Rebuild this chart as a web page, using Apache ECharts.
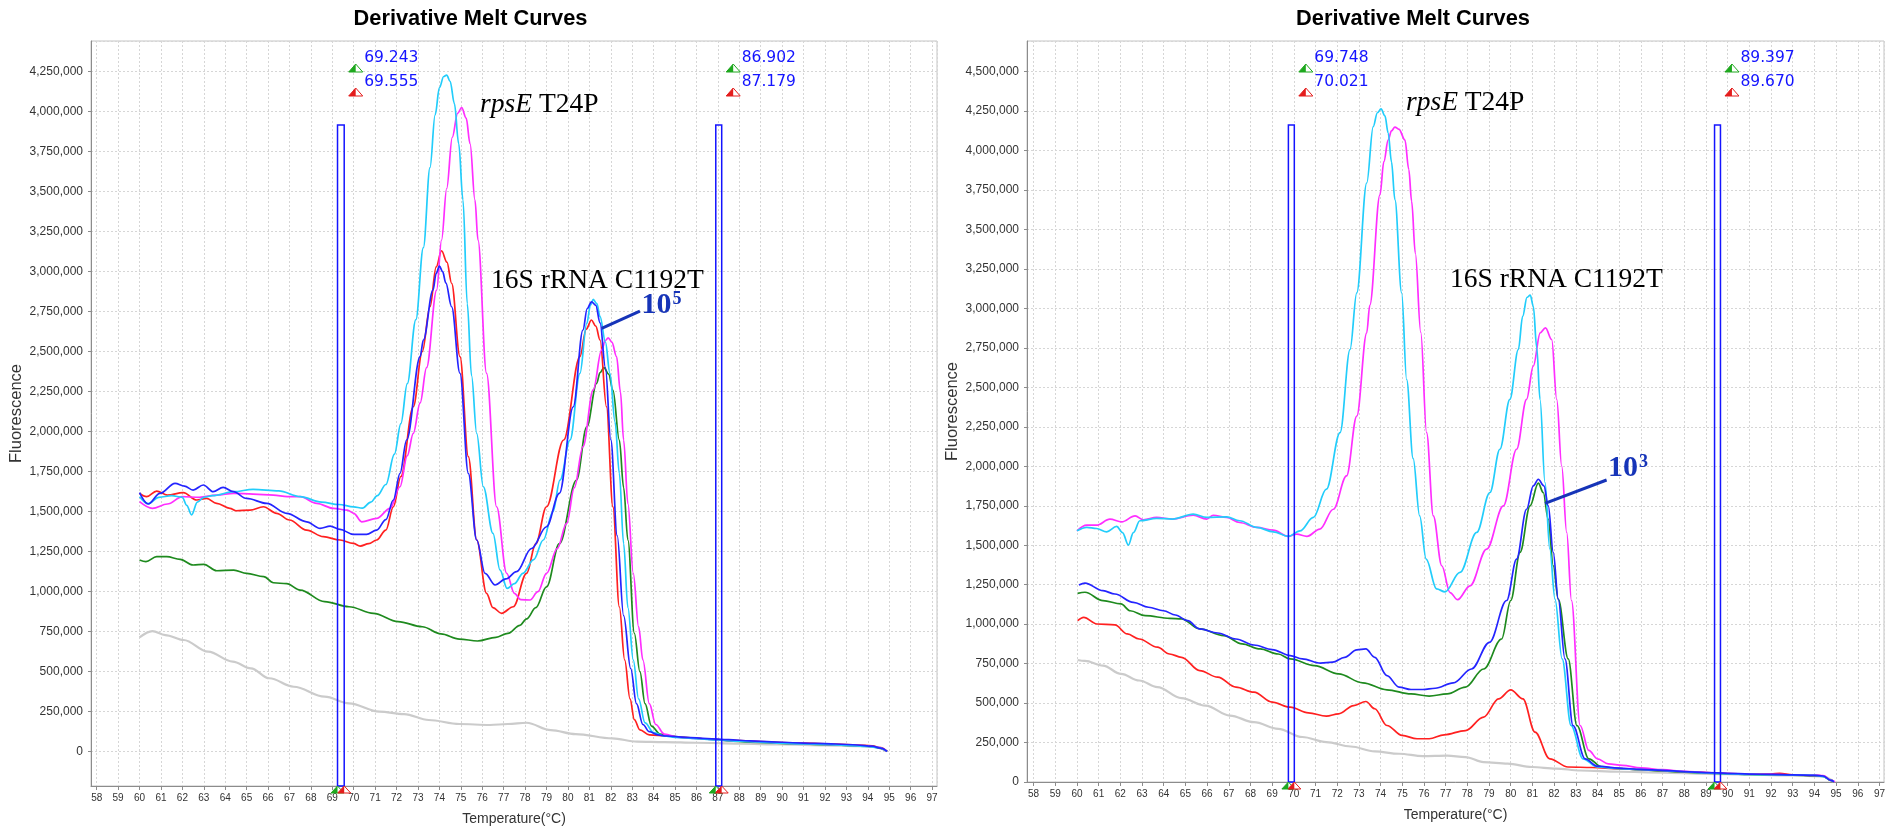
<!DOCTYPE html>
<html><head><meta charset="utf-8">
<script src="https://cdn.jsdelivr.net/npm/echarts@6/dist/echarts.min.js"></script>
<style>html,body{margin:0;padding:0;background:#fff}#c{width:1887px;height:831px}</style>
</head><body><div id="c"></div>
<script>
// ---------------- DATA ----------------
const chartTitle = 'Derivative Melt Curves';
const xAxisName = 'Temperature(°C)';
const yAxisName = 'Fluorescence';

// Left panel (10^5)
const leftCyan = [[60.0,1594000],[60.4,1550000],[60.9,1590000],[61.5,1600000],[62.0,1590000],[62.2,1540000],[62.43,1480000],[62.7,1560000],[63.0,1590000],[63.4,1600000],[64.4,1625000],[65.3,1640000],[66.5,1630000],[67.5,1594000],[68.5,1560000],[69.3,1545000],[70.0,1530000],[70.4,1522000],[70.8,1560000],[71.1,1600000],[71.5,1670000],[71.9,1860000],[72.2,2050000],[72.5,2300000],[72.9,2700000],[73.25,3150000],[73.56,3650000],[73.8,3980000],[74.0,4150000],[74.2,4220000],[74.34,4229000],[74.5,4190000],[74.7,4050000],[74.9,3800000],[75.1,3448000],[75.3,2800000],[75.5,2350000],[75.74,1990000],[76.05,1656000],[76.5,1365000],[76.83,1135000],[77.16,1021000],[77.5,1050000],[77.9,1115000],[78.4,1200000],[78.85,1323000],[79.3,1500000],[79.63,1698000],[80.1,1948000],[80.56,2365000],[80.88,2677000],[81.05,2790000],[81.18,2827000],[81.35,2800000],[81.5,2719000],[81.75,2560000],[81.96,2365000],[82.2,2060000],[82.4,1740000],[82.6,1300000],[82.8,900000],[83.05,573000],[83.3,330000],[83.6,180000],[84.0,120000],[84.5,98000],[85,90000],[86,82000],[87,73000],[88,66000],[89,60000],[90,53000],[91,49000],[92,45000],[93,40000],[94,33000],[94.5,25000],[94.9,2000]];
const leftMagenta = [[60.0,1563000],[60.6,1521000],[61.3,1548000],[62.0,1594000],[62.8,1590000],[63.6,1604000],[64.4,1615000],[65.3,1610000],[66.25,1604000],[66.9,1594000],[67.5,1594000],[68.27,1552000],[69.05,1521000],[69.7,1510000],[70.0,1490000],[70.37,1437000],[71.07,1458000],[71.7,1521000],[72.16,1656000],[72.5,1850000],[72.78,1990000],[73.1,2180000],[73.4,2400000],[73.87,2885000],[74.1,3198000],[74.34,3520000],[74.6,3840000],[74.85,3990000],[75.04,4025000],[75.25,3960000],[75.43,3800000],[75.66,3448000],[75.8,3198000],[76.2,2365000],[76.67,1531000],[77.14,1115000],[77.5,990000],[77.8,950000],[78.23,948000],[78.6,1000000],[79.0,1115000],[79.5,1270000],[79.94,1427000],[80.3,1650000],[80.7,1906000],[81.18,2261000],[81.57,2510000],[81.75,2570000],[81.88,2587000],[82.05,2560000],[82.27,2469000],[82.45,2250000],[82.6,1948000],[82.8,1550000],[83.05,1115000],[83.3,780000],[83.5,573000],[83.8,300000],[84.1,170000],[84.5,110000],[85.2,90000],[86,83000],[87,74000],[88,67000],[89,61000],[90,54000],[91,50000],[92,46000],[93,41000],[94,35000],[94.5,27000],[94.9,2000]];
const leftRed = [[60.0,1615000],[60.33,1594000],[60.8,1629000],[61.3,1604000],[62.04,1619000],[62.67,1573000],[63.13,1583000],[63.6,1552000],[64.22,1521000],[64.5,1506000],[65.16,1510000],[65.78,1531000],[66.4,1490000],[67.0,1448000],[67.8,1385000],[68.58,1344000],[69.36,1323000],[69.98,1302000],[70.3,1285000],[70.7,1300000],[71.07,1323000],[71.5,1385000],[71.85,1531000],[72.2,1720000],[72.78,2156000],[73.2,2500000],[73.56,2781000],[73.85,3030000],[74.1,3131000],[74.35,3060000],[74.57,2927000],[74.96,2469000],[75.35,1844000],[75.74,1323000],[76.2,990000],[76.5,900000],[76.9,865000],[77.45,906000],[78.07,1115000],[78.5,1300000],[79.0,1531000],[79.8,1948000],[80.56,2469000],[80.85,2640000],[81.1,2698000],[81.3,2660000],[81.5,2573000],[81.8,2156000],[82.1,1531000],[82.4,906000],[82.65,573000],[82.9,330000],[83.1,200000],[83.36,136000],[83.8,105000],[84.65,98000],[85.5,88000],[86.5,80000],[87.5,72000],[88.5,66000],[89.5,60000],[90.5,54000],[91.5,52000],[92.5,47000],[93.5,42000],[94.2,36000],[94.6,25000],[94.9,2000]];
const leftBlue = [[60.0,1619000],[60.4,1548000],[60.95,1615000],[61.66,1677000],[62.1,1660000],[62.5,1635000],[62.98,1667000],[63.44,1625000],[63.9,1652000],[64.38,1625000],[65.0,1583000],[65.94,1552000],[66.87,1490000],[67.8,1437000],[68.43,1396000],[68.9,1410000],[69.36,1390000],[69.98,1358000],[70.6,1358000],[71.07,1385000],[71.5,1450000],[71.85,1573000],[72.16,1740000],[72.47,1948000],[73.1,2469000],[73.25,2573000],[73.7,2885000],[73.85,2990000],[74.0,3035000],[74.15,3000000],[74.3,2930000],[74.57,2781000],[74.96,2365000],[75.35,1740000],[75.74,1323000],[76.13,1115000],[76.6,1042000],[77.1,1080000],[77.6,1125000],[78.3,1270000],[79.0,1406000],[79.6,1615000],[80.25,2156000],[80.7,2635000],[80.9,2770000],[81.1,2812000],[81.3,2790000],[81.5,2680000],[81.75,2400000],[82.0,1950000],[82.3,1350000],[82.6,850000],[82.93,520000],[83.2,300000],[83.5,170000],[83.8,125000],[84.2,105000],[84.6,98000],[85.5,90000],[86.5,82000],[87.5,75000],[88.5,68000],[89.5,62000],[90.5,56000],[91.5,52000],[92.5,48000],[93.5,42000],[94.2,35000],[94.6,22000],[94.9,2000]];
const leftGreen = [[60.0,1198000],[60.3,1188000],[60.8,1219000],[61.27,1219000],[61.9,1202000],[62.5,1167000],[63.0,1171000],[63.6,1131000],[64.4,1135000],[65.0,1115000],[65.8,1094000],[66.25,1056000],[66.87,1050000],[67.5,1010000],[68.64,938000],[69.78,906000],[70.92,865000],[72.07,813000],[73.2,781000],[74.07,736000],[74.93,704000],[75.78,692000],[76.64,715000],[77.2,740000],[77.76,790000],[78.07,830000],[78.5,900000],[79.0,1030000],[79.6,1300000],[80.4,1698000],[80.88,2031000],[81.34,2302000],[81.5,2370000],[81.68,2400000],[81.9,2360000],[82.1,2260000],[82.4,1948000],[82.6,1650000],[82.8,1323000],[83.1,740000],[83.36,500000],[83.6,300000],[83.9,160000],[84.3,110000],[84.7,98000],[85.5,88000],[86.5,78000],[87.5,68000],[88.5,60000],[89.5,55000],[90.5,50000],[91.5,46000],[92.5,42000],[93.5,37000],[94.2,32000],[94.6,20000],[94.9,2000]];
const leftGrey = [[60.0,715000],[60.6,754000],[61.2,729000],[62.06,698000],[63.2,625000],[64.35,563000],[65.2,521000],[66.06,459000],[67.2,406000],[68.64,344000],[69.78,302000],[71.2,250000],[72.35,235000],[73.5,198000],[74.93,173000],[76.36,167000],[77.2,173000],[78.07,181000],[79.2,135000],[80.36,110000],[82.08,83000],[83.22,63000],[84.5,60000],[86,56000],[88,50000],[90,45000],[92,40000],[93.5,35000],[94.3,30000],[94.9,2000]];

// Right panel (10^3)
const rightCyan = [[60.0,1591000],[60.45,1613000],[60.9,1606000],[61.37,1585000],[61.83,1619000],[62.1,1580000],[62.37,1501000],[62.6,1580000],[62.9,1655000],[63.67,1670000],[64.4,1666000],[65.36,1697000],[65.98,1676000],[66.9,1680000],[67.5,1655000],[68.29,1613000],[69.05,1585000],[69.74,1556000],[70.28,1591000],[70.9,1676000],[71.5,1855000],[72.13,2214000],[72.59,2740000],[72.9,3099000],[73.36,3795000],[73.66,4152000],[73.85,4240000],[74.02,4264000],[74.2,4220000],[74.35,4111000],[74.5,3930000],[74.66,3689000],[74.97,3099000],[75.2,2550000],[75.5,2050000],[75.8,1686000],[76.1,1412000],[76.58,1223000],[76.97,1205000],[77.66,1328000],[78.43,1581000],[79.04,1834000],[79.5,2108000],[79.96,2424000],[80.35,2740000],[80.55,2950000],[80.75,3070000],[80.9,3085000],[81.04,3014000],[81.2,2750000],[81.35,2424000],[81.58,1897000],[81.8,1476000],[82.04,1159000],[82.37,780000],[82.78,358000],[83.33,147000],[84.0,95000],[85,85000],[86,78000],[87,72000],[88,65000],[89,58000],[90,52000],[91,48000],[92,46000],[93,44000],[94,42000],[94.4,35000],[94.76,10000],[94.9,2000]];
const rightMagenta = [[60.0,1591000],[60.45,1627000],[60.9,1627000],[61.52,1665000],[62.06,1648000],[62.68,1686000],[63.06,1661000],[63.67,1676000],[64.4,1666000],[65.36,1690000],[65.98,1666000],[66.28,1690000],[66.9,1676000],[67.5,1644000],[68.29,1613000],[69.05,1596000],[69.74,1556000],[70.13,1570000],[70.6,1556000],[71.2,1602000],[71.82,1728000],[72.43,1939000],[72.9,2318000],[73.36,2846000],[73.5,3020000],[73.97,3720000],[74.15,3930000],[74.35,4068000],[74.5,4125000],[74.66,4149000],[74.85,4135000],[75.12,4068000],[75.3,3880000],[75.43,3680000],[75.6,3350000],[75.85,2850000],[76.12,2213000],[76.43,1686000],[76.82,1370000],[77.2,1200000],[77.55,1155000],[78.12,1243000],[78.89,1475000],[79.66,1749000],[80.27,2108000],[80.73,2424000],[81.04,2635000],[81.36,2846000],[81.6,2877000],[81.89,2803000],[82.12,2424000],[82.35,2002000],[82.58,1581000],[82.8,1150000],[83.2,358000],[83.6,200000],[84.0,147000],[84.5,115000],[85.15,105000],[86,90000],[87,78000],[88,68000],[89,60000],[90,54000],[91,50000],[92,48000],[93,45000],[94,43000],[94.4,40000],[94.76,12000],[94.95,2000]];
const rightRed = [[60.03,1022000],[60.31,1043000],[60.92,1001000],[61.75,995000],[62.32,938000],[62.87,906000],[63.71,854000],[64.27,811000],[64.82,790000],[65.66,706000],[66.49,664000],[67.33,601000],[68.16,569000],[69.0,506000],[69.83,474000],[70.67,438000],[71.5,417000],[72.06,432000],[72.76,484000],[73.32,510000],[73.73,464000],[74.29,358000],[74.99,295000],[75.68,274000],[76.24,274000],[76.93,299000],[77.91,326000],[78.75,411000],[79.44,527000],[80.0,584000],[80.56,527000],[81.12,316000],[81.8,147000],[82.64,95000],[83.75,92000],[85,85000],[86,78000],[87,72000],[88,65000],[89,60000],[90,54000],[91,50000],[92,50000],[92.4,55000],[93,45000],[94,42000],[94.4,38000],[94.76,10000],[94.9,2000]];
const rightBlue = [[60.09,1248000],[60.37,1260000],[61.2,1212000],[61.75,1191000],[62.6,1138000],[63.3,1107000],[63.99,1085000],[64.54,1058000],[65.1,1022000],[65.66,970000],[66.49,944000],[67.33,906000],[68.16,868000],[69.0,839000],[69.83,801000],[70.39,780000],[71.23,753000],[71.79,759000],[72.34,790000],[72.9,837000],[73.32,843000],[73.73,790000],[74.29,674000],[74.85,601000],[75.4,586000],[75.95,586000],[76.52,594000],[77.35,628000],[78.19,716000],[79.02,885000],[79.81,1150000],[80.27,1412000],[80.73,1728000],[81.04,1876000],[81.27,1918000],[81.53,1876000],[81.73,1749000],[81.96,1455000],[82.19,1159000],[82.5,780000],[82.87,358000],[83.43,147000],[84.0,100000],[85,88000],[86,80000],[87,74000],[88,66000],[89,60000],[90,55000],[91,50000],[92,48000],[93,45000],[94,42000],[94.4,38000],[94.76,10000],[94.9,2000]];
const rightGreen = [[60.03,1195000],[60.37,1202000],[61.2,1149000],[62.03,1128000],[62.45,1085000],[63.15,1054000],[64.27,1037000],[64.82,1033000],[65.66,970000],[66.77,927000],[67.61,875000],[68.44,843000],[69.28,811000],[69.83,780000],[70.95,737000],[72.06,685000],[73.18,628000],[74.29,584000],[75.4,558000],[76.24,544000],[77.07,558000],[77.91,601000],[78.75,716000],[79.58,906000],[80.0,1150000],[80.43,1455000],[80.89,1749000],[81.27,1893000],[81.5,1834000],[81.73,1665000],[81.96,1370000],[82.19,1159000],[82.65,780000],[83.05,358000],[83.6,147000],[84.2,95000],[85,85000],[86,78000],[87,70000],[88,62000],[89,56000],[90,52000],[91,48000],[92,46000],[93,44000],[94,41000],[94.4,36000],[94.76,10000],[94.9,2000]];
const rightGrey = [[60.03,773000],[60.37,767000],[61.2,737000],[62.03,685000],[62.87,643000],[63.71,601000],[64.82,531000],[65.93,484000],[67.05,421000],[68.16,379000],[69.28,337000],[70.39,285000],[71.5,253000],[72.62,225000],[73.73,194000],[74.85,179000],[75.95,164000],[77.07,167000],[77.91,158000],[78.75,126000],[79.86,116000],[80.98,95000],[82.09,85000],[83.2,73000],[85,65000],[87,60000],[89,52000],[91,46000],[93,42000],[94.4,36000],[94.9,2000]];

// Melt-temperature markers [green, red]
const leftMarkers = [[69.243, 69.555], [86.902, 87.179]];
const rightMarkers = [[69.748, 70.021], [89.397, 89.670]];

// Axis ranges
const leftXRange = [57.734, 97.23];
const rightXRange = [57.696, 97.21];
const leftYRange = [-214375, 4441875];
const rightYRange = [0, 4694500];
const xTickStep = 1;
const yTickStep = 250000;

// Annotation texts and anchor points (data coordinates)
const geneLabel = ['rpsE', 'T24P'];
const snpLabel = '16S rRNA C1192T';
const leftExponent = '5';
const rightExponent = '3';
const leftAnno = {rps:[75.9, 4044000], s16:[76.41, 2944000], exp:[83.44, 2792000], leader:[[81.575, 2646000],[83.36, 2754000]]};
const rightAnno = {rps:[75.17, 4301800], s16:[77.2, 3180000], exp:[84.48, 1987000], leader:[[81.58, 1765700],[84.42, 1913300]]};

// ---------------- CHART ----------------
const COLORS = {grey:'#cbcbcb', green:'#1e8a1e', red:'#ff2020', magenta:'#ff2eff', cyan:'#22cdfb', blue:'#2424ff'};
const panels = [
  {grid:{left:91, top:41, width:846, height:745}, xr:leftXRange, yr:leftYRange, showMinY:false,
   curves:[['grey',leftGrey],['green',leftGreen],['red',leftRed],['magenta',leftMagenta],['cyan',leftCyan],['blue',leftBlue]],
   markers:leftMarkers, anno:leftAnno, exp:leftExponent, titleX:470.5},
  {grid:{left:1027, top:41, width:857, height:741}, xr:rightXRange, yr:rightYRange, showMinY:true,
   curves:[['grey',rightGrey],['green',rightGreen],['red',rightRed],['magenta',rightMagenta],['cyan',rightCyan],['blue',rightBlue]],
   markers:rightMarkers, anno:rightAnno, exp:rightExponent, titleX:1413}
];

const SANS = '"Liberation Sans", Arial, sans-serif';
const SERIF = '"Liberation Serif", "Times New Roman", serif';
const fmt = v => String(Math.round(v)).replace(/\B(?=(\d{3})+(?!\d))/g, ',');
const axisGrey = '#8c8c8c';
const gridLine = {show:true, lineStyle:{color:'#d6d6d6', width:1, type:[2,2]}};

const chart = echarts.init(document.getElementById('c'), null, {renderer:'canvas', width:1887, height:831});

const option = {
  animation:false,
  backgroundColor:'#ffffff',
  grid: panels.map(p => Object.assign({show:true, borderColor:'#c4c4c4', borderWidth:1, backgroundColor:'#fff', containLabel:false, outerBoundsMode:'none'}, p.grid)),
  xAxis: panels.map((p,i) => ({
    gridIndex:i, type:'value', min:p.xr[0], max:p.xr[1], minInterval:xTickStep, maxInterval:xTickStep, splitNumber:40,
    axisLine:{show:true, onZero:false, lineStyle:{color:axisGrey, width:1}},
    axisTick:{show:true, length:4, lineStyle:{color:axisGrey}},
    axisLabel:{showMinLabel:false, showMaxLabel:false, fontSize:10, color:'#333', margin:7, fontFamily:SANS},
    splitLine:gridLine,
    name:xAxisName, nameLocation:'middle', nameGap:26, nameTextStyle:{fontSize:14, color:'#333', fontFamily:SANS}
  })),
  yAxis: panels.map((p,i) => ({
    gridIndex:i, type:'value', min:p.yr[0], max:p.yr[1], minInterval:yTickStep, maxInterval:yTickStep, splitNumber:18,
    axisLine:{show:true, onZero:false, lineStyle:{color:axisGrey, width:1}},
    axisTick:{show:true, length:3, lineStyle:{color:axisGrey}},
    axisLabel:{showMinLabel:p.showMinY, showMaxLabel:false, fontSize:12, color:'#333', margin:8, fontFamily:SANS, formatter:fmt},
    splitLine:gridLine,
    name:yAxisName, nameLocation:'middle', nameGap:66, nameTextStyle:{fontSize:16.5, color:'#333', fontFamily:SANS}
  })),
  series: []
};
panels.forEach((p,i) => {
  p.curves.forEach(([c, data]) => {
    option.series.push({
      type:'line', xAxisIndex:i, yAxisIndex:i, data:data, symbol:'none', showSymbol:false,
      smooth:0.35, smoothMonotone:'x', clip:true, silent:true,
      lineStyle:{color:COLORS[c], width: c==='grey'?2.2:1.7},
      emphasis:{disabled:true}
    });
  });
});
chart.setOption(option);

// ---------------- ANNOTATIONS (positioned through the axes) ----------------
const g = [];
const MARK_BLUE = '#1414ff';
const ANNO_BLUE = '#1634b8';
function halfTri(cx, top, w, h, color) {
  g.push({type:'polygon', z:100, shape:{points:[[cx,top],[cx-w/2,top+h],[cx+w/2,top+h]]}, style:{fill:'#fff', stroke:color, lineWidth:1}});
  g.push({type:'polygon', z:101, shape:{points:[[cx,top],[cx-w/2,top+h],[cx,top+h]]}, style:{fill:color}});
}
panels.forEach((p,i) => {
  const px = (x,y) => chart.convertToPixel({gridIndex:i}, [x,y]);
  const top = p.grid.top, bottom = p.grid.top + p.grid.height;
  g.push({type:'text', z:100, style:{text:chartTitle, x:p.titleX, y:19, align:'center', verticalAlign:'middle', font:'bold 21.8px '+SANS, fill:'#000'}});
  p.markers.forEach(([m1, m2]) => {
    const x1 = px(m1, 0)[0], x2 = px(m2, 0)[0];
    g.push({type:'rect', z:90, shape:{x:x1, y:top+84, width:x2-x1, height:bottom-top-84}, style:{fill:'none', stroke:MARK_BLUE, lineWidth:1.5}});
    halfTri(x2+11.5, top+23, 14, 8, '#1ea81e');
    halfTri(x2+11.5, top+47, 14, 8, '#e41c1c');
    g.push({type:'text', z:100, style:{text:m1.toFixed(3), x:x2+20, y:top+17, verticalAlign:'middle', font:'15.5px "DejaVu Sans", sans-serif', fill:MARK_BLUE}});
    g.push({type:'text', z:100, style:{text:m2.toFixed(3), x:x2+20, y:top+41, verticalAlign:'middle', font:'15.5px "DejaVu Sans", sans-serif', fill:MARK_BLUE}});
    halfTri(x1, bottom, 13, 7, '#1ea81e');
    halfTri(x2, bottom, 13, 7, '#e41c1c');
  });
  const a = p.anno;
  const r = px(a.rps[0], a.rps[1]);
  g.push({type:'text', z:100, style:{text:'{i|'+geneLabel[0]+'} {n|'+geneLabel[1]+'}', x:r[0], y:r[1], verticalAlign:'middle',
    rich:{i:{fontFamily:SERIF, fontStyle:'italic', fontSize:27.5, fill:'#000'}, n:{fontFamily:SERIF, fontSize:27.5, fill:'#000'}}, fill:'#000', font:'27.5px '+SERIF}});
  const s = px(a.s16[0], a.s16[1]);
  g.push({type:'text', z:100, style:{text:snpLabel, x:s[0], y:s[1], verticalAlign:'middle', font:'27.5px '+SERIF, fill:'#000'}});
  const e = px(a.exp[0], a.exp[1]);
  g.push({type:'text', z:100, style:{text:'10', x:e[0], y:e[1], verticalAlign:'middle', font:'bold 30px '+SERIF, fill:ANNO_BLUE}});
  g.push({type:'text', z:100, style:{text:p.exp, x:e[0]+31, y:e[1]-6, verticalAlign:'middle', font:'bold 18px '+SERIF, fill:ANNO_BLUE}});
  const l1 = px(a.leader[0][0], a.leader[0][1]), l2 = px(a.leader[1][0], a.leader[1][1]);
  g.push({type:'line', z:100, shape:{x1:l1[0], y1:l1[1], x2:l2[0], y2:l2[1]}, style:{stroke:ANNO_BLUE, lineWidth:3}});
});
chart.setOption({graphic:{elements:g}});
</script>
</body></html>
